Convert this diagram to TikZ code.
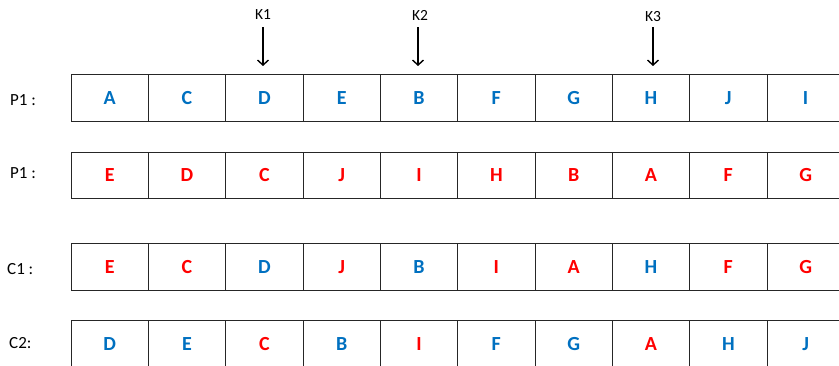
\documentclass[tikz,border=0pt]{standalone}
\usepackage{fontspec}
\setmainfont{Carlito}
\usetikzlibrary{arrows.meta}
\definecolor{cblue}{RGB}{0,112,192}
\definecolor{cred}{RGB}{255,0,0}
\tikzset{
  cell/.style={draw=black!85, line width=0.9pt, minimum width=77.33pt, minimum height=46.5pt,
    inner sep=0pt, font=\fontsize{20}{21}\selectfont\bfseries},
  bl/.style={cell, text=cblue},
  rd/.style={cell, text=cred},
  rowlab/.style={anchor=west, inner sep=0pt, font=\fontsize{17}{19}\selectfont},
  klab/.style={inner sep=0pt, font=\fontsize{15.5}{17}\selectfont},
  karrow/.style={line width=1.6pt, -{Straight Barb[length=5pt,width=11pt,line width=1.4pt]}}
}
\begin{document}
\begin{tikzpicture}[x=1pt,y=-1pt]
\useasboundingbox (0,0) rectangle (839,366);
\clip (0,0) rectangle (839,366);
% row 1
\foreach \l [count=\i] in {A,C,D,E,B,F,G,H,J,I}
  \node[bl] (r1c\i) at ({71+77.33*(\i-0.5)},98) {\l};
% row 2
\foreach \l [count=\i] in {E,D,C,J,I,H,B,A,F,G}
  \node[rd] (r2c\i) at ({71+77.33*(\i-0.5)},175.5) {\l};
% row 3
\foreach \l/\s [count=\i] in {E/rd,C/rd,D/bl,J/rd,B/bl,I/rd,A/rd,H/bl,F/rd,G/rd}
  \node[\s] (r3c\i) at ({71+77.33*(\i-0.5)},267) {\l};
% row 4
\foreach \l/\s [count=\i] in {D/bl,E/bl,C/rd,B/bl,I/rd,F/bl,G/bl,A/rd,H/bl,J/bl}
  \node[\s] (r4c\i) at ({71+77.33*(\i-0.5)},344) {\l};
% labels
\node[rowlab] (l1) at (10,100) {P1 :};
\node[rowlab] (l2) at (10,173.5) {P1 :};
\node[rowlab] (l3) at (7,269) {C1 :};
\node[rowlab] (l4) at (9,343) {C2:};
% cut points
\node[klab] (k1) at (263,15) {K1};
\node[klab] (k2) at (420,15) {K2};
\node[klab] (k3) at (653,17) {K3};
\coordinate (a1) at (263,66);
\coordinate (a2) at (418,66);
\coordinate (a3) at (653,66);
\draw[karrow, shorten <=7pt] (k1.south -| a1) -- (a1);
\draw[karrow, shorten <=7pt] (k2.south -| a2) -- (a2);
\draw[karrow, shorten <=5pt] (k3.south -| a3) -- (a3);
\end{tikzpicture}
\end{document}
